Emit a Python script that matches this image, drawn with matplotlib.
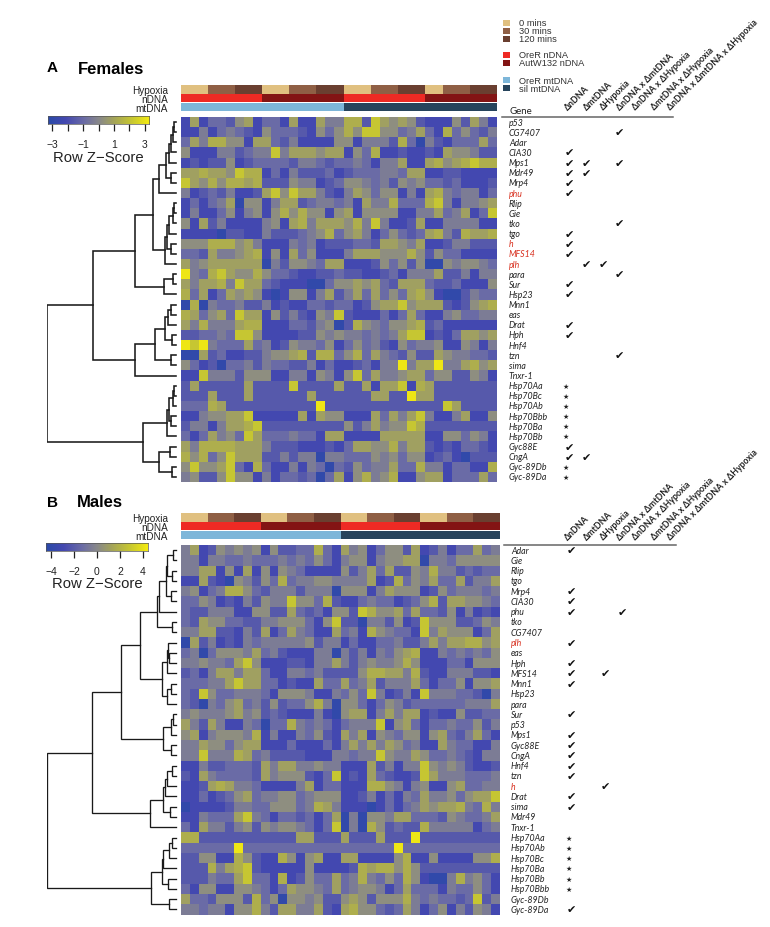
import numpy as np
import matplotlib
matplotlib.use('Agg')
import matplotlib.pyplot as plt
from matplotlib.colors import LinearSegmentedColormap, ListedColormap

W, H = 770, 928
SANS = ['Liberation Sans', 'DejaVu Sans']
GENE_FONT = ['Lato', 'DejaVu Sans']

# colour level of each cell, 0 = deep blue ... 9 = bright yellow
LEVEL_Z = [-3.0, -2.2, -1.6, -1.0, -0.4, 0.2, 0.8, 1.3, 2.1, 3.1]

F_LEVELS = [
    "161332561 331611644 772865652 11152641",
    "114134321 533321535 758855346 31735324",
    "364775516 632411115 514442730 42133363",
    "511144234 484666566 153711211 21655422",
    "121225123 333244323 343144611 67567877",
    "667665877 131422231 233344366 11221111",
    "865757767 222544123 554342545 33231112",
    "412324112 685866421 465355141 67434413",
    "131346055 146623443 416447333 78414456",
    "141135145 157575515 615555114 46346138",
    "516241111 451674666 574841126 11444411",
    "111102211 422234573 564135323 67427667",
    "555777564 111434122 233266546 11244222",
    "332644567 151635111 466655575 25331111",
    "645666666 042554366 111253525 00545543",
    "943786557 533211223 221123144 46224144",
    "646674866 321110035 565632666 32231115",
    "736136565 101551462 463635367 51002433",
    "070433422 412113323 312566856 66212567",
    "763563866 152421548 211131363 11453344",
    "647444677 111332450 275435567 23111111",
    "223343885 111122545 443434688 12136656",
    "989433363 412544351 353421534 45115414",
    "006231122 455672773 573643252 26544332",
    "531203342 433224131 123144946 69446756",
    "118444255 511441541 583644566 35522541",
    "262222262 222822226 226166817 62222222",
    "222622262 222226222 222662296 62222222",
    "333762222 222222922 222222222 22862222",
    "114556681 111161655 111636468 41146115",
    "244146678 222222222 524645587 22222222",
    "313645386 333433166 111166666 11553541",
    "647777666 422211121 366557466 21213321",
    "757358666 224244044 333545355 12310222",
    "585568317 311414303 253446337 44133117",
    "452258551 413323036 157457115 66133363",
]

M_LEVELS = [
    "461254545 152233731 645135526 124133634",
    "441443343 334343531 455145566 044355555",
    "446615161 515431111 524636225 474423233",
    "116210542 537344554 444612735 463362446",
    "451347753 244424440 555146555 125344434",
    "335412142 544855372 113433123 572665543",
    "322444115 522632315 528755636 332514121",
    "326553322 445553158 220442512 855522354",
    "446622142 613643116 341754331 846555136",
    "062412143 444445244 131133422 464667756",
    "340355546 342111440 424143567 114343435",
    "445443685 111221446 424544575 111331555",
    "231466466 311443422 225776647 211444221",
    "333446866 331211633 634624446 313351556",
    "328533444 315554114 353841241 844433204",
    "320435634 252335740 553135423 333334446",
    "454445645 232111410 566146466 121152233",
    "642641143 033743431 344481563 133433524",
    "561455547 141143521 646154355 156324631",
    "446553566 111311131 464646534 116433114",
    "448444763 422221114 434485446 533432144",
    "114223332 646644544 111624144 854542112",
    "216433332 645552138 121632112 864443334",
    "112676443 111146133 111775414 511563344",
    "113123563 445534555 112413143 644535668",
    "011112443 355534764 111013134 656674374",
    "114333684 313323136 040554663 332543346",
    "316442452 545543138 040752322 744444134",
    "772222222 222266222 622262229 222222222",
    "333333933 333333333 333333933 333333333",
    "225511752 117515611 661111571 151111557",
    "222746782 111115111 127677575 222222222",
    "222433683 317125336 347435375 100474531",
    "315511554 313655436 345541363 331433531",
    "633255527 350554522 565255574 343323824",
    "443441557 426644621 675532364 135142541",
]

F_HYPOXIA = "000111222 000111222 000111222 00111222"
F_NDNA = "000000000 111111111 000000000 11111111"
F_MTDNA = "000000000 000000000 111111111 11111111"
M_HYPOXIA = "000111222 000111222 000111222 000111222"
M_NDNA = "000000000 111111111 000000000 111111111"
M_MTDNA = "000000000 000000000 111111111 111111111"

F_GENES = ['p53', 'CG7407', 'Adar', 'CIA30', 'Mps1', 'Mdr49', 'Mrp4', 'phu', 'Rlip', 'Gie', 'tko', 'tgo',
           'h', 'MFS14', 'plh', 'para', 'Sur', 'Hsp23', 'Mnn1', 'eas', 'Drat', 'Hph', 'Hnf4', 'tzn', 'sima',
           'Tnxr-1', 'Hsp70Aa', 'Hsp70Bc', 'Hsp70Ab', 'Hsp70Bbb', 'Hsp70Ba', 'Hsp70Bb', 'Gyc88E', 'CngA',
           'Gyc-89Db', 'Gyc-89Da']
M_GENES = ['Adar', 'Gie', 'Rlip', 'tgo', 'Mrp4', 'CIA30', 'phu', 'tko', 'CG7407', 'plh', 'eas', 'Hph', 'MFS14',
           'Mnn1', 'Hsp23', 'para', 'Sur', 'p53', 'Mps1', 'Gyc88E', 'CngA', 'Hnf4', 'tzn', 'h', 'Drat', 'sima',
           'Mdr49', 'Tnxr-1', 'Hsp70Aa', 'Hsp70Ab', 'Hsp70Bc', 'Hsp70Ba', 'Hsp70Bb', 'Hsp70Bbb', 'Gyc-89Db',
           'Gyc-89Da']
F_RED = ['phu', 'h', 'MFS14', 'plh']
M_RED = ['plh', 'h']

# digits = column with a check, * = star in the first column
F_MARKS = ['', '3', '', '0', '013', '01', '0', '0', '', '', '3', '0', '0', '0', '12', '3', '0', '0', '', '',
           '0', '0', '', '3', '', '', '*', '*', '*', '*', '*', '*', '0', '01', '*', '*']
M_MARKS = ['0', '', '', '', '0', '0', '03', '', '', '0', '', '0', '02', '0', '', '', '0', '', '0', '0', '0', '0',
           '0', '2', '0', '0', '', '', '*', '*', '*', '*', '*', '*', '', '0']

EFFECTS = ['ΔnDNA', 'ΔmtDNA', 'ΔHypoxia', 'ΔnDNA x ΔmtDNA', 'ΔnDNA x ΔHypoxia', 'ΔmtDNA x ΔHypoxia',
           'ΔnDNA x ΔmtDNA x ΔHypoxia']
HEADER_X = [569, 588, 605, 621, 637, 656, 672]

# dendrograms as nested (height, upper, lower), leaves are row numbers
F_TREE = (133.7,
          (88.3,
           (45.7,
            (28.3,
             (21.7,
              (15, (11.7, (9.7, (7.7, (7, 0, 1), 2), 3), 4), (10, 5, 6)),
              7),
             (16.3,
              (14, (12, (8.5, (7.5, 8, 9), 10), 11), (10.3, 12, 13)),
              14)),
            (16.7, (8.3, 15, 16), 17)),
           (45.7,
            (25.7,
             (16,
              (13.3, (10, 18, 19), 20),
              (8.7, 21, 22)),
             (10.3, 23, 24)),
            25)),
          (38,
           (14.3,
            (11.7,
             (8.3, (7, 26, 27), 28),
             (10, 29, 30)),
            31),
           (21.7, (11, 32, 33), (9.3, 34, 35))))

M_TREE = (134,
          (88.7,
           (60,
            (41,
             (24.3,
              (21.7,
               (15.3,
                (13.7, (8.3, 0, 1), (9.3, 2, 3)),
                (10.3, 4, 5)),
               6),
              (9.3, 7, 8)),
             (19.3,
              (13.7, (12.7, 9, (12, 10, 11)), 12),
              (13.7, (10.3, 13, 14), 15))),
            (18.3,
             (10.3, (8.3, 16, 17), 18),
             (10.3, 19, 20))),
           (31,
            (18.3,
             (16, (13.7, (9.3, 21, 22), 23), 24),
             (11, 25, 26)),
            27)),
          (30,
           (19.3,
            (17.7, (12, (9.3, 28, 29), 30), 31),
            (12.7, 32, 33)),
           (11.7, 34, 35)))
LEAF_H = 5  # leaves stop a little before the heat map

HYPOXIA_COLORS = ['#e0c080', '#8f5f45', '#6a3f30']
NDNA_COLORS = ['#ee2a24', '#831414']
MTDNA_COLORS = ['#7db6d9', '#27445c']
LEGEND = [('0 mins', HYPOXIA_COLORS[0], 23.5), ('30 mins', HYPOXIA_COLORS[1], 31.8), ('120 mins', HYPOXIA_COLORS[2], 40),
          ('OreR nDNA', NDNA_COLORS[0], 56), ('AutW132 nDNA', NDNA_COLORS[1], 64),
          ('OreR mtDNA', MTDNA_COLORS[0], 81), ('sil mtDNA', MTDNA_COLORS[1], 89)]

heat_cmap = LinearSegmentedColormap.from_list('heat', [
    (0.0, '#2a4aa8'), (0.17, '#4448b0'), (0.35, '#6a6ba6'), (0.5, '#88888a'),
    (0.65, '#a5a558'), (0.83, '#c8c830'), (1.0, '#f5ec10')])


def px_axes(fig, x0, y0, x1, y1):
    # axes from pixel box, y counted from the top
    ax = fig.add_axes([x0 / W, 1 - y1 / H, (x1 - x0) / W, (y1 - y0) / H])
    return ax


def parse(rows):
    return np.array([[LEVEL_Z[int(c)] for c in r.replace(' ', '')] for r in rows])


def codes(s):
    return np.array([[int(c) for c in s.replace(' ', '')]])


def draw_tree(ax, node):
    # returns (height, row position) of the node
    if not isinstance(node, tuple):
        return LEAF_H, node + 0.5
    h, up, low = node
    h1, y1 = draw_tree(ax, up)
    h2, y2 = draw_tree(ax, low)
    ax.plot([h1, h, h, h2], [y1, y1, y2, y2], color='#1a1a1a', lw=LINE_W, solid_joinstyle='miter')
    return h, (y1 + y2) / 2


def track(fig, box, data, colors):
    ax = px_axes(fig, *box)
    ax.pcolormesh(data, cmap=ListedColormap(colors), vmin=0, vmax=len(colors) - 1)
    ax.axis('off')


def panel(fig, box, levels, scale, tree, track_ys, tracks, genes, red, marks, col_x, star_x, gene_x, rule_y, rule_x):
    x0, y0, x1, y1 = box
    # heat map
    ax = px_axes(fig, x0, y0, x1, y1)
    ax.pcolormesh(parse(levels) * scale, cmap=heat_cmap, vmin=-3.3 * scale, vmax=3.3 * scale)
    ax.set_ylim(len(genes), 0)
    ax.axis('off')
    # annotation tracks
    for (ya, yb), (data, colors) in zip(track_ys, tracks):
        track(fig, (x0, ya, x1, yb), codes(data), colors)
    # dendrogram
    dax = px_axes(fig, x0 - 134, y0, x0, y1)
    dax.set_xlim(134, 0)
    dax.set_ylim(len(genes), 0)
    dax.axis('off')
    draw_tree(dax, tree)
    # gene table, x in pixels
    tax = px_axes(fig, rule_x[0], y0, rule_x[1], y1)
    tax.set_xlim(rule_x)
    tax.set_ylim(len(genes), 0)
    tax.axis('off')
    for i, g in enumerate(genes):
        tax.text(gene_x, i + 0.5, g, style='italic', family=GENE_FONT, fontsize=6.3, va='center',
                 color='#d8301f' if g in red else '#222222')
        for m in marks[i]:
            if m == '*':
                tax.text(star_x, i + 0.5, '★', family='DejaVu Sans', fontsize=5, ha='center', va='center',
                         color='#222222')
            else:
                tax.text(col_x[int(m)], i + 0.5, '✔', family='DejaVu Sans', fontsize=8, ha='center', va='center',
                         color='#111111')
    over.plot(rule_x, [rule_y, rule_y], color='#666666', lw=1.1)


def colorbar(fig, box, zmax, ticks, labels, label_y, title_y):
    ax = px_axes(fig, *box)
    ax.imshow(np.linspace(-1, 1, 256)[None, :], cmap=heat_cmap, aspect='auto', extent=[-zmax, zmax, 0, 1],
              vmin=-1, vmax=1)
    ax.set_yticks([])
    ax.set_xticks(ticks)
    ax.set_xticklabels([])
    ax.tick_params(axis='x', length=5, width=0.9, color='#222222')
    for s in ax.spines.values():
        s.set_linewidth(0.5)
        s.set_color('#555555')
    cx = (box[0] + box[2]) / 2
    unit = (box[2] - box[0]) / (2 * zmax)
    for t, lab in labels:
        over.text(cx + t * unit, label_y, lab, family=SANS, fontsize=7.5, ha='center', va='center', color='#222222')
    over.text(cx, title_y, 'Row Z\u2212Score', family=SANS, fontsize=10.7, ha='center', va='center', color='#222222')


fig = plt.figure(figsize=(W / 100, H / 100), dpi=100)
over = fig.add_axes([0, 0, 1, 1], zorder=5)
over.set_xlim(0, W)
over.set_ylim(H, 0)
over.axis('off')

# Females
LINE_W = 1.15
panel(fig, (181, 118, 497, 483), F_LEVELS, 1.0, F_TREE,
      [(86, 94.7), (95, 103.4), (104, 112)],
      [(F_HYPOXIA, HYPOXIA_COLORS), (F_NDNA, NDNA_COLORS), (F_MTDNA, MTDNA_COLORS)],
      F_GENES, F_RED, F_MARKS, [569, 586, 603, 619], 566, 509, 117.7, (502, 673))
# Males
LINE_W = 0.95
panel(fig, (181, 546, 500, 915.5), M_LEVELS, 4.4 / 3.3, M_TREE,
      [(514, 522.6), (522.8, 531.3), (531.7, 540)],
      [(M_HYPOXIA, HYPOXIA_COLORS), (M_NDNA, NDNA_COLORS), (M_MTDNA, MTDNA_COLORS)],
      M_GENES, M_RED, M_MARKS, [571.5, 588, 605, 622], 569, 511, 545.7, (504, 676))

colorbar(fig, (47.7, 117.3, 149.3, 125), 3.3, [-3, -2, -1, 0, 1, 2, 3],
         [(-3, '\u22123'), (-1, '\u22121'), (1, '1'), (3, '3')], 145, 157.5)
colorbar(fig, (46, 544, 148, 551.7), 4.43, [-4, -2, 0, 2, 4],
         [(-4, '\u22124'), (-2, '\u22122'), (0, '0'), (2, '2'), (4, '4')], 572, 584)

# panel titles and track names
over.text(47, 68, 'A', family=SANS, weight='bold', fontsize=11, va='center')
over.text(78, 69, 'Females', family=SANS, weight='bold', fontsize=12, va='center')
over.text(47, 503, 'B', family=SANS, weight='bold', fontsize=11, va='center')
over.text(77, 503, 'Males', family=SANS, weight='bold', fontsize=12, va='center')
for name, y_f, y_m in zip(['Hypoxia', 'nDNA', 'mtDNA'], [90.7, 99.7, 108.7], [518.7, 527.7, 536.7]):
    over.text(168, y_f, name, family=SANS, fontsize=7.2, ha='right', va='center', color='#222222')
    over.text(168, y_m, name, family=SANS, fontsize=7.2, ha='right', va='center', color='#222222')

# legend
for lab, col, y in LEGEND:
    over.add_patch(plt.Rectangle((503, y - 3), 7, 6, color=col, lw=0))
    over.text(519, y, lab, family=SANS, fontsize=6.7, va='center', color='#333333')

# table headers
over.text(509, 111, 'Gene', family=GENE_FONT, fontsize=7, va='center', color='#222222')
for name, x in zip(EFFECTS, HEADER_X):
    for y in [112, 542]:
        over.text(x, y, name, family=GENE_FONT, weight='bold', fontsize=6.3, rotation=45,
                  rotation_mode='anchor', ha='left', va='bottom', color='#222222')

for rows, n in [(F_LEVELS, 35), (M_LEVELS, 36)]:
    assert all(len(r.replace(' ', '')) == n for r in rows)

fig.savefig('out.png', dpi=100, facecolor='white')
